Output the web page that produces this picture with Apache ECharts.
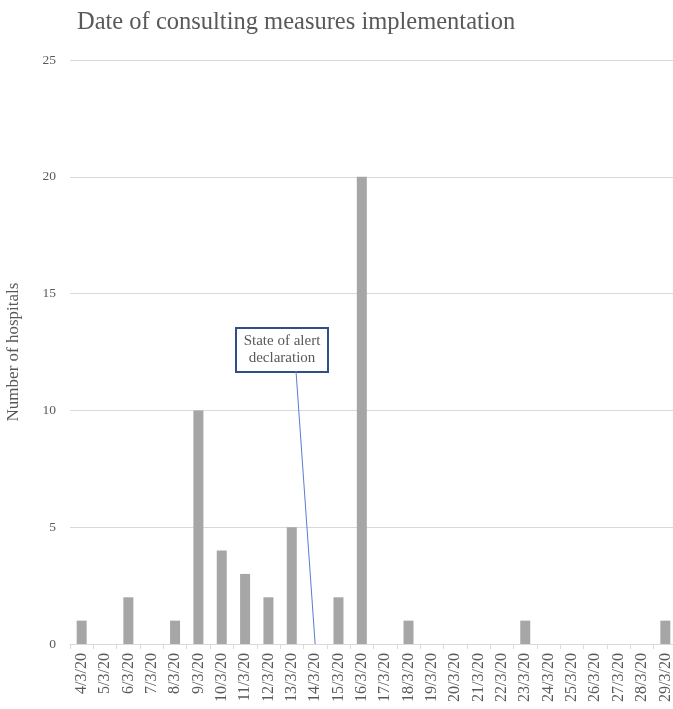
<!DOCTYPE html>
<html>
<head>
<meta charset="utf-8">
<script src="https://cdn.jsdelivr.net/npm/echarts@6/dist/echarts.min.js"></script>
<style>
  html, body { margin: 0; padding: 0; background: #ffffff; }
  #chart { width: 673px; height: 709px; }
</style>
</head>
<body>
<div id="chart"></div>
<script>
// Dates of implementation (March 2020)
const dates = ['4/3/20', '5/3/20', '6/3/20', '7/3/20', '8/3/20', '9/3/20', '10/3/20',
  '11/3/20', '12/3/20', '13/3/20', '14/3/20', '15/3/20', '16/3/20', '17/3/20',
  '18/3/20', '19/3/20', '20/3/20', '21/3/20', '22/3/20', '23/3/20', '24/3/20',
  '25/3/20', '26/3/20', '27/3/20', '28/3/20', '29/3/20'];
// Number of hospitals per date
const hospitals = [1, 0, 2, 0, 1, 10, 4, 3, 2, 5, 0, 2, 20, 0, 1, 0, 0, 0, 0, 1, 0, 0, 0, 0, 0, 1];
// Date of the state of alert declaration
const alertDate = '14/3/20';
const alertText = 'State of alert\ndeclaration';

const font = '"Liberation Serif", "DejaVu Serif", serif';
const textColor = '#595959';

const chart = echarts.init(document.getElementById('chart'));
chart.setOption({
  animation: false,
  backgroundColor: '#ffffff',
  title: {
    text: 'Date of consulting measures implementation',
    left: 72,
    top: 5,
    textStyle: { fontFamily: font, fontSize: 24.5, fontWeight: 'normal', color: textColor }
  },
  grid: { left: 70, top: 60, width: 607, height: 584, outerBoundsMode: 'none', containLabel: false },
  xAxis: {
    type: 'category',
    data: dates,
    axisLine: { lineStyle: { color: '#d9d9d9', width: 1 } },
    axisTick: { show: true, alignWithLabel: false, length: 5, lineStyle: { color: '#d9d9d9' } },
    axisLabel: { rotate: 90, interval: 0, margin: 9, fontFamily: font, fontSize: 16, color: textColor }
  },
  yAxis: {
    type: 'value',
    min: 0, max: 25, interval: 5,
    name: 'Number of hospitals',
    nameLocation: 'middle',
    nameGap: 48,
    nameTextStyle: { fontFamily: font, fontSize: 17, color: textColor },
    axisLine: { show: false },
    axisTick: { show: false },
    axisLabel: { margin: 14, fontFamily: font, fontSize: 13.5, color: textColor },
    splitLine: { lineStyle: { color: '#d9d9d9', width: 1 } }
  },
  series: [{
    type: 'bar',
    data: hospitals,
    barWidth: 10,
    itemStyle: { color: '#a6a6a6' },
    markLine: {
      silent: true,
      symbol: ['none', 'none'],
      label: { show: false },
      lineStyle: { color: '#5b7bd5', width: 1, type: 'solid' },
      data: [[{ x: 296, y: 371 }, { coord: [alertDate, 0] }]]
    }
  }],
  graphic: [{
    type: 'group',
    left: 235,
    top: 327,
    children: [{
      type: 'rect',
      shape: { x: 0, y: 0, width: 92, height: 44 },
      style: { fill: '#ffffff', stroke: '#2f4f8a', lineWidth: 2 }
    }, {
      type: 'text',
      x: 46, y: 22,
      style: {
        text: alertText,
        align: 'center', verticalAlign: 'middle',
        font: '15px ' + font,
        lineHeight: 17,
        fill: textColor
      }
    }]
  }]
});
</script>
</body>
</html>
